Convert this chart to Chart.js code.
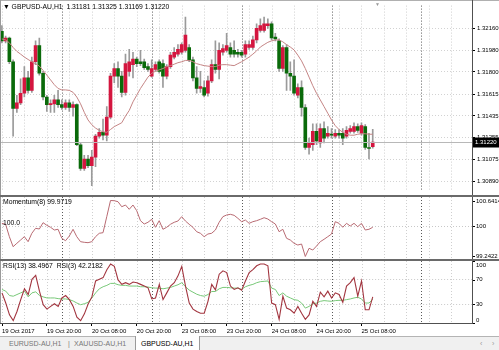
<!DOCTYPE html>
<html>
<head>
<meta charset="utf-8">
<script src="https://cdn.jsdelivr.net/npm/chart.js@4.4.1/dist/chart.umd.min.js"></script>
<style>
  body { margin: 0; background: #fff; overflow: hidden; }
  #wrap { position: relative; width: 499px; height: 350px; font-family: "Liberation Sans", Arial, sans-serif; }
  canvas { position: absolute; left: 0; }
  .txt { position: absolute; font-size: 6.8px; color: #000; white-space: nowrap; line-height: 8px; }
  .line { position: absolute; background: #7a7a7a; }
  #tabs { position: absolute; left: 0; top: 336px; width: 499px; height: 14px; background: #f0f0f0; border-top: 1px solid #b4b4b4; }
  .tab { position: absolute; top: 3px; font-size: 7px; color: #777; white-space: nowrap; }
  #active { position: absolute; left: 135px; top: -1px; width: 63px; height: 14px; background: #fff; border: 1px solid #9a9a9a; border-top: none; }
</style>
</head>
<body>
<div id="wrap">
  <canvas id="cMain" width="499" height="196" style="top:0"></canvas>
  <canvas id="cMom" width="499" height="62" style="top:197px"></canvas>
  <canvas id="cRsi" width="499" height="76" style="top:261px"></canvas>

  <div class="line" style="left:0;top:0;width:499px;height:1px;background:#b0b0b0"></div>
  <div class="line" style="left:0;top:0;width:1px;height:323px;background:#9a9a9a"></div>
  <div class="line" style="left:472px;top:0;width:1px;height:323px;background:#505050"></div>
  <div class="line" style="left:0;top:195px;width:499px;height:2px;background:#6a6a6a"></div>
  <div class="line" style="left:0;top:259px;width:499px;height:2px;background:#6a6a6a"></div>
  <div class="line" style="left:0;top:323px;width:473px;height:1px;background:#505050"></div>

  <div class="txt" style="left:3px;top:3px">&#9660; GBPUSD-AU,H1&nbsp; 1.31181 1.31325 1.31169 1.31220</div>
  <div class="txt" style="left:375px;top:0px;color:#999;font-size:5px">&#9660;</div>
  <div class="txt" style="left:3px;top:198px">Momentum(8) 99.9719</div>
  <div class="txt" style="left:3px;top:219px">100.0</div>
  <div class="txt" style="left:3px;top:262px">RSI(13) 38.4967&nbsp; RSI(3) 42.2182</div>

  <div id="tabs">
    <div class="tab" style="left:9px">EURUSD-AU,H1</div>
    <div class="tab" style="left:68px">|</div>
    <div class="tab" style="left:74px">XAUUSD-AU,H1</div>
    <div id="active"></div>
    <div class="tab" style="left:141px;color:#000">GBPUSD-AU,H1</div>
    <div class="tab" style="left:480px;color:#999">&#8249;</div>
    <div class="tab" style="left:492px;color:#999">&#8250;</div>
  </div>
</div>

<script>
// GBPUSD H1 candles, 19 Oct 08:00 .. 25 Oct 11:00
const opens = [
  1.32136, 1.32057, 1.32081, 1.31884, 1.31497, 1.31544, 1.31623, 1.31750, 1.31647, 1.31884,
  1.32018, 1.31789, 1.31592, 1.31529, 1.31536, 1.31568, 1.31529, 1.31505, 1.31544, 1.31505,
  1.31529, 1.31197, 1.31000, 1.31079, 1.31024, 1.31095, 1.31268, 1.31300, 1.31276, 1.31426,
  1.31765, 1.31828, 1.31765, 1.31631, 1.31805, 1.31860, 1.31907, 1.31884, 1.31884, 1.31844,
  1.31765, 1.31821, 1.31884, 1.31868, 1.31765, 1.31844, 1.31923, 1.31947, 1.31963, 1.31978,
  1.32002, 1.31899, 1.31750, 1.31663, 1.31671, 1.31623, 1.31726, 1.31860, 1.31821, 1.31963,
  1.31978, 1.32002, 1.31978, 1.31963, 1.31963, 1.31947, 1.32002, 1.32002, 1.32065, 1.32144,
  1.32144, 1.32183, 1.32199, 1.32089, 1.32057, 1.31828, 1.32002, 1.31789, 1.31765, 1.31607,
  1.31671, 1.31505, 1.31174, 1.31197, 1.31308, 1.31213, 1.31331, 1.31268, 1.31284, 1.31268,
  1.31292, 1.31292, 1.31268, 1.31308, 1.31308, 1.31347, 1.31292, 1.31347, 1.31174, 1.31181
];
const highs = [
  1.32183, 1.32097, 1.32089, 1.31899, 1.31607, 1.31742, 1.31844, 1.31805, 1.31923, 1.32057,
  1.32081, 1.31805, 1.31607, 1.31568, 1.31607, 1.31647, 1.31568, 1.31568, 1.31568, 1.31552,
  1.31536, 1.31213, 1.31110, 1.31110, 1.31150, 1.31284, 1.31331, 1.31410, 1.31513, 1.31789,
  1.31868, 1.31884, 1.31805, 1.31947, 1.31986, 1.31963, 1.31923, 1.31978, 1.31907, 1.31868,
  1.31899, 1.31884, 1.31899, 1.31899, 1.31860, 1.31963, 1.32002, 1.32026, 1.32041, 1.32254,
  1.32026, 1.31923, 1.31844, 1.31805, 1.31726, 1.31765, 1.31899, 1.32057, 1.32041, 1.32026,
  1.32120, 1.32041, 1.32057, 1.31986, 1.31978, 1.32057, 1.32057, 1.32097, 1.32199, 1.32239,
  1.32254, 1.32239, 1.32215, 1.32120, 1.32073, 1.32018, 1.32026, 1.31884, 1.31899, 1.31702,
  1.31726, 1.31529, 1.31252, 1.31371, 1.31371, 1.31371, 1.31387, 1.31347, 1.31331, 1.31323,
  1.31323, 1.31331, 1.31347, 1.31355, 1.31379, 1.31371, 1.31379, 1.31363, 1.31292, 1.31325
];
const lows = [
  1.32041, 1.32041, 1.31868, 1.31268, 1.31465, 1.31529, 1.31592, 1.31623, 1.31631, 1.31860,
  1.31773, 1.31568, 1.31473, 1.31465, 1.31465, 1.31505, 1.31489, 1.31489, 1.31473, 1.31434,
  1.31189, 1.30984, 1.30984, 1.31008, 1.30858, 1.31016, 1.31252, 1.31237, 1.31229, 1.31410,
  1.31710, 1.31671, 1.31592, 1.31607, 1.31765, 1.31750, 1.31844, 1.31852, 1.31821, 1.31805,
  1.31757, 1.31805, 1.31789, 1.31671, 1.31742, 1.31828, 1.31907, 1.31931, 1.31947, 1.31963,
  1.31884, 1.31726, 1.31623, 1.31631, 1.31592, 1.31600, 1.31710, 1.31789, 1.31742, 1.31939,
  1.31963, 1.31923, 1.31923, 1.31923, 1.31923, 1.31923, 1.31986, 1.31986, 1.32041, 1.32128,
  1.32128, 1.32160, 1.32065, 1.32057, 1.31805, 1.31805, 1.31647, 1.31647, 1.31607, 1.31584,
  1.31434, 1.31158, 1.31118, 1.31150, 1.31197, 1.31174, 1.31213, 1.31252, 1.31252, 1.31252,
  1.31252, 1.31197, 1.31252, 1.31292, 1.31292, 1.31300, 1.31276, 1.31158, 1.31079, 1.31169
];
const closes = [
  1.32057, 1.32081, 1.31884, 1.31497, 1.31544, 1.31623, 1.31750, 1.31647, 1.31884, 1.32018,
  1.31789, 1.31592, 1.31529, 1.31536, 1.31568, 1.31529, 1.31505, 1.31544, 1.31505, 1.31529,
  1.31197, 1.31000, 1.31079, 1.31024, 1.31095, 1.31268, 1.31300, 1.31276, 1.31426, 1.31765,
  1.31828, 1.31765, 1.31631, 1.31868, 1.31884, 1.31907, 1.31868, 1.31868, 1.31836, 1.31821,
  1.31828, 1.31860, 1.31805, 1.31765, 1.31844, 1.31939, 1.31963, 1.31986, 1.32026, 1.32105,
  1.31899, 1.31750, 1.31663, 1.31679, 1.31607, 1.31726, 1.31860, 1.31821, 1.31978, 1.31994,
  1.32018, 1.31947, 1.31947, 1.31947, 1.31939, 1.32026, 1.32026, 1.32065, 1.32160, 1.32183,
  1.32199, 1.32199, 1.32081, 1.32073, 1.31828, 1.32002, 1.31789, 1.31765, 1.31623, 1.31671,
  1.31505, 1.31174, 1.31213, 1.31308, 1.31229, 1.31331, 1.31252, 1.31292, 1.31276, 1.31292,
  1.31276, 1.31252, 1.31316, 1.31331, 1.31347, 1.31316, 1.31355, 1.31174, 1.31166, 1.31220
];
// moving average drawn over the candles
const ma = [
  1.32073, 1.32065, 1.32041, 1.32002, 1.31970, 1.31947, 1.31923, 1.31903, 1.31884, 1.31868,
  1.31848, 1.31813, 1.31773, 1.31734, 1.31694, 1.31663, 1.31651, 1.31651, 1.31647, 1.31631,
  1.31592, 1.31536, 1.31465, 1.31402, 1.31363, 1.31335, 1.31316, 1.31304, 1.31300, 1.31323,
  1.31347, 1.31363, 1.31379, 1.31434, 1.31481, 1.31552, 1.31607, 1.31663, 1.31710, 1.31757,
  1.31789, 1.31805, 1.31817, 1.31828, 1.31844, 1.31852, 1.31864, 1.31876, 1.31884, 1.31895,
  1.31895, 1.31884, 1.31868, 1.31860, 1.31852, 1.31848, 1.31844, 1.31844, 1.31856, 1.31860,
  1.31860, 1.31856, 1.31852, 1.31868, 1.31884, 1.31903, 1.31923, 1.31947, 1.31974, 1.32006,
  1.32026, 1.32045, 1.32057, 1.32065, 1.32065, 1.32049, 1.32026, 1.32006, 1.31982, 1.31939,
  1.31891, 1.31828, 1.31757, 1.31686, 1.31623, 1.31568, 1.31513, 1.31458, 1.31402, 1.31355,
  1.31323, 1.31300, 1.31284, 1.31276, 1.31276, 1.31284, 1.31288, 1.31288, 1.31284, 1.31284
];
const momentum = [
  100.071, 100.047, 99.737, 99.487, 99.572, 99.654, 99.737, 99.612, 99.822, 99.947,
  99.929, 100.087, 100.022, 99.972, 99.904, 99.922, 99.697, 99.637, 99.754, 99.922,
  99.737, 99.612, 99.597, 99.587, 99.612, 99.737, 99.822, 99.837, 100.237, 100.6414,
  100.636, 100.611, 100.486, 100.529, 100.421, 100.529, 100.386, 100.137, 100.054, 100.097,
  100.171, 99.972, 100.137, 99.922, 99.972, 100.047, 100.097, 100.129, 100.237, 100.129,
  100.047, 99.972, 99.862, 99.822, 99.737, 99.804, 99.822, 99.904, 100.097, 100.237,
  100.279, 100.296, 100.271, 100.197, 100.112, 100.154, 100.071, 100.112, 100.137, 100.171,
  100.211, 100.179, 100.112, 100.054, 99.862, 99.922, 99.697, 99.654, 99.572, 99.529,
  99.554, 99.2422, 99.447, 99.404, 99.504, 99.612, 99.672, 99.737, 99.804, 100.112,
  100.071, 99.972, 100.071, 100.004, 100.071, 99.987, 100.071, 99.904, 99.922, 99.9719
];
const rsi3 = [
  48.6, 32.2, 13.1, 3.8, 18.6, 37.7, 55.2, 45.9, 70.5, 77.0,
  51.4, 29.5, 22.4, 26.8, 31.1, 26.8, 40.4, 44.3, 37.7, 26.8,
  9.3, 3.8, 14.8, 30.6, 42.1, 67.8, 70.5, 73.2, 85.8, 95.1,
  91.3, 69.4, 62.3, 65.0, 62.3, 66.1, 65.0, 62.3, 59.6, 56.8,
  38.8, 40.4, 62.3, 37.7, 48.6, 59.6, 65.0, 76.0, 91.3, 59.6,
  32.2, 22.4, 18.6, 15.8, 15.8, 35.0, 62.3, 53.5, 78.7, 84.2,
  81.4, 59.6, 54.1, 56.8, 53.0, 67.8, 81.4, 86.0, 92.3, 95.1,
  95.1, 92.3, 32.2, 29.5, 6.0, 43.2, 24.0, 21.3, 15.8, 26.8,
  15.8, 6.0, 13.1, 35.0, 26.8, 49.7, 42.1, 51.4, 40.4, 48.6,
  45.9, 33.3, 59.6, 65.0, 73.2, 43.2, 67.8, 21.3, 21.3, 42.2182
];
const rsi13 = [
  54.1, 51.4, 44.3, 43.2, 45.9, 48.6, 51.4, 42.1, 48.6, 50.3,
  44.3, 42.1, 40.4, 40.4, 40.4, 39.3, 38.8, 38.8, 37.7, 35.5,
  32.2, 29.5, 31.1, 33.3, 40.4, 48.6, 55.2, 58.5, 60.7, 63.9,
  63.9, 61.7, 60.7, 60.7, 59.6, 59.6, 59.6, 58.5, 58.5, 58.0,
  56.8, 56.3, 56.3, 55.2, 56.3, 57.4, 59.6, 61.7, 65.0, 58.5,
  53.0, 49.7, 46.4, 44.3, 43.2, 45.9, 50.8, 50.8, 55.2, 57.4,
  57.4, 56.8, 56.3, 56.3, 54.1, 58.5, 60.7, 62.3, 65.0, 66.7,
  67.2, 67.8, 56.3, 54.1, 44.3, 48.6, 43.2, 40.4, 37.7, 36.6,
  32.2, 24.0, 26.8, 31.1, 32.2, 35.0, 36.1, 35.5, 35.0, 36.1,
  36.6, 36.6, 37.7, 38.8, 40.4, 41.5, 38.8, 32.2, 32.2, 38.4967
];
const priceTicks = [1.30890, 1.31075, 1.31255, 1.31435, 1.31615, 1.31800, 1.31980, 1.32160];
const timeLabels = ['19 Oct 2017', '19 Oct 20:00', '20 Oct 08:00', '20 Oct 20:00', '23 Oct 08:00',
  '23 Oct 20:00', '24 Oct 08:00', '24 Oct 20:00', '25 Oct 08:00'];
const dayStarts = [16, 40, 64, 88, 112];   // bar slots where a new day begins
const bid = 1.31220;

const slotCount = 126;                      // bars plus empty space to the right
const slots = Array.from({ length: slotCount }, (_, i) => i);
const bullColor = '#d4163f';
const bearColor = '#0a6a0a';

Chart.defaults.font.family = '"Liberation Sans", Arial, sans-serif';
Chart.defaults.font.size = 6;
Chart.defaults.color = '#000';
Chart.defaults.animation = false;

const fixWidth = s => { s.width = 27; };

// dotted vertical grid, darker on day boundaries
const vGrid = {
  id: 'vGrid',
  beforeDatasetsDraw(chart) {
    const { ctx, chartArea: a, scales: { x } } = chart;
    ctx.save();
    ctx.lineWidth = 1;
    ctx.setLineDash([1, 2]);
    slots.forEach(i => {
      const day = dayStarts.includes(i);
      if (!day && i % 6) return;
      const px = Math.round(x.getPixelForValue(i)) + 0.5;
      ctx.strokeStyle = day ? '#5a5a5a' : '#cfcfcf';
      ctx.beginPath();
      ctx.moveTo(px, a.top);
      ctx.lineTo(px, a.bottom);
      ctx.stroke();
    });
    ctx.restore();
  }
};

// right-hand labels for the indicator windows
const sideLabels = {
  id: 'sideLabels',
  afterDraw(chart, args, opts) {
    const { ctx, chartArea: a, scales: { y } } = chart;
    ctx.save();
    ctx.font = '6px "Liberation Sans", Arial, sans-serif';
    ctx.fillStyle = '#000';
    ctx.textBaseline = 'middle';
    opts.items.forEach(([v, t]) => {
      const py = y.getPixelForValue(v);
      ctx.fillRect(a.right, Math.round(py), 3, 1);
      ctx.fillText(t, a.right + 4, Math.min(Math.max(py, a.top + 4), a.bottom - 3));
    });
    ctx.restore();
  }
};

// bid line and price box
const bidLine = {
  id: 'bidLine',
  afterDraw(chart) {
    const { ctx, chartArea: a, scales: { y } } = chart;
    const py = Math.round(y.getPixelForValue(bid)) + 0.5;
    ctx.save();
    ctx.strokeStyle = '#b8b8b8';
    ctx.beginPath();
    ctx.moveTo(a.left, py);
    ctx.lineTo(a.right, py);
    ctx.stroke();
    ctx.fillStyle = '#000';
    ctx.fillRect(a.right + 1, py - 5, 26, 10);
    ctx.fillStyle = '#fff';
    ctx.font = '6px "Liberation Sans", Arial, sans-serif';
    ctx.textBaseline = 'middle';
    ctx.fillText(bid.toFixed(5), a.right + 3, py);
    ctx.restore();
  }
};

const hiddenX = { type: 'category', labels: slots, display: false, offset: true };

new Chart(document.getElementById('cMain'), {
  data: {
    labels: slots,
    datasets: [
      {
        type: 'line', data: ma, borderColor: '#c48484', borderWidth: 1,
        pointRadius: 0, order: 1
      },
      {
        type: 'bar', data: opens.map((o, i) => [o, closes[i]]),
        backgroundColor: opens.map((o, i) => closes[i] >= o ? bullColor : bearColor),
        barThickness: 3, minBarLength: 1, grouped: false, order: 2
      },
      {
        type: 'bar', data: lows.map((l, i) => [l, highs[i]]),
        backgroundColor: '#9a9a9a', barThickness: 1, grouped: false, order: 3
      }
    ]
  },
  options: {
    responsive: false,
    layout: { padding: { top: 1, bottom: 1 } },
    plugins: { legend: { display: false }, tooltip: { enabled: false } },
    scales: {
      x: hiddenX,
      y: {
        position: 'right', min: 1.30819, max: 1.32349,
        afterBuildTicks: s => { s.ticks = priceTicks.map(v => ({ value: v })); },
        afterFit: fixWidth,
        ticks: { callback: v => v.toFixed(5), padding: 2, font: { size: 6 } },
        grid: { color: '#d2d2d2', tickLength: 3, tickColor: '#000' },
        border: { display: false, dash: [1, 2] }
      }
    }
  },
  plugins: [vGrid, bidLine]
});

new Chart(document.getElementById('cMom'), {
  type: 'line',
  data: {
    labels: slots,
    datasets: [{ data: momentum, borderColor: '#b86a72', borderWidth: 1, pointRadius: 0 }]
  },
  options: {
    responsive: false,
    layout: { padding: 0 },
    plugins: {
      legend: { display: false }, tooltip: { enabled: false },
      sideLabels: { items: [[100.6414, '100.6414'], [100, '100'], [99.2422, '99.2422']] }
    },
    scales: {
      x: hiddenX,
      y: {
        position: 'right', min: 99.1797, max: 100.7289,
        afterBuildTicks: s => { s.ticks = [{ value: 100 }]; },
        afterFit: fixWidth,
        ticks: { display: false },
        grid: { color: '#c8c8c8', drawTicks: false },
        border: { display: false, dash: [1, 2] }
      }
    }
  },
  plugins: [vGrid, sideLabels]
});

new Chart(document.getElementById('cRsi'), {
  type: 'line',
  data: {
    labels: slots,
    datasets: [
      { data: rsi3, borderColor: '#a2353f', borderWidth: 1.1, pointRadius: 0 },
      { data: rsi13, borderColor: '#78c878', borderWidth: 1, pointRadius: 0 }
    ]
  },
  options: {
    responsive: false,
    layout: { padding: 0 },
    plugins: {
      legend: { display: false }, tooltip: { enabled: false },
      sideLabels: { items: [[100, '100'], [70, '70'], [30, '30'], [0, '0']] }
    },
    scales: {
      x: {
        type: 'category', labels: slots, offset: true,
        afterFit: s => { s.height = 14; },
        ticks: {
          autoSkip: false, maxRotation: 0, minRotation: 0, align: 'start', padding: 2,
          font: { size: 6 },
          callback: (v, i) => (i % 12 === 0 && i < closes.length) ? timeLabels[i / 12] : ''
        },
        grid: {
          drawOnChartArea: false, offset: false, tickLength: 3,
          color: c => (c.index % 12 === 0 && c.index < closes.length) ? '#000' : 'rgba(0,0,0,0)'
        },
        border: { display: false }
      },
      y: {
        position: 'right', min: 0, max: 100,
        afterBuildTicks: s => { s.ticks = [{ value: 30 }, { value: 70 }]; },
        afterFit: fixWidth,
        ticks: { display: false },
        grid: { color: '#c8c8c8', drawTicks: false },
        border: { display: false, dash: [1, 2] }
      }
    }
  },
  plugins: [vGrid, sideLabels]
});
</script>
</body>
</html>
